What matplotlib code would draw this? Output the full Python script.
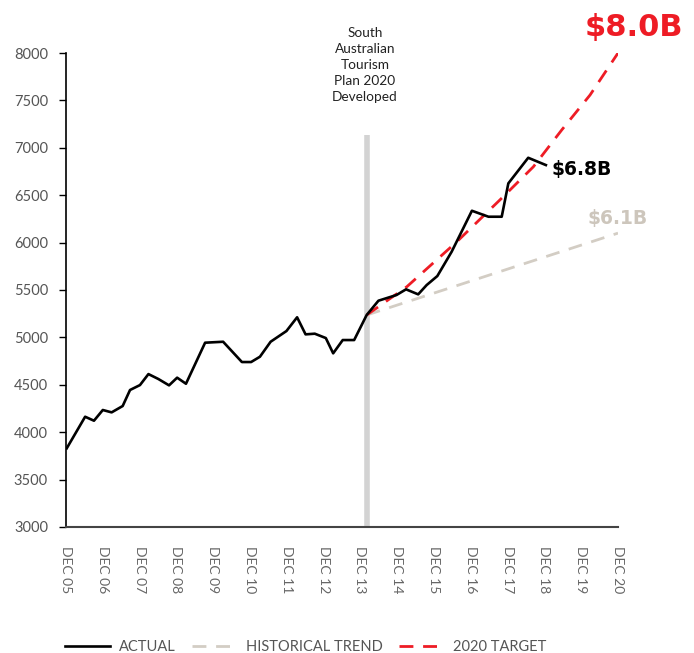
import matplotlib.pyplot as plt

# years since Dec 2005 (x) and visitor expenditure in $M (y)
actual_x = [0.02, 0.52, 0.76, 1.00, 1.24, 1.54, 1.74, 2.01, 2.24, 2.51, 2.80, 3.02,
            3.26, 3.78, 4.27, 4.78, 5.03, 5.27, 5.56, 5.99, 6.28, 6.51, 6.76, 7.06,
            7.26, 7.52, 7.83, 8.17, 8.49, 8.98, 9.24, 9.57, 9.80, 10.09, 10.48,
            11.03, 11.48, 11.84, 12.02, 12.56, 13.04]
actual_y = [3830, 4163, 4121, 4234, 4209, 4276, 4445, 4497, 4613, 4561, 4494, 4575,
            4511, 4944, 4954, 4740, 4740, 4796, 4954, 5067, 5212, 5032, 5039, 4993,
            4832, 4972, 4972, 5236, 5387, 5447, 5507, 5454, 5552, 5647, 5904,
            6336, 6273, 6273, 6625, 6895, 6818]

trend_x = [8.17, 15.0]
trend_y = [5236, 6100]

target_x = [8.17, 9.26, 10.62, 11.88, 12.70, 13.47, 14.24, 15.0]
target_y = [5236, 5534, 6009, 6484, 6800, 7188, 7557, 8000]

plan_x = 8.17
plan_top = 7130

tick_labels = ["DEC 05", "DEC 06", "DEC 07", "DEC 08", "DEC 09", "DEC 10", "DEC 11",
               "DEC 12", "DEC 13", "DEC 14", "DEC 15", "DEC 16", "DEC 17", "DEC 18",
               "DEC 19", "DEC 20"]

plt.rcParams['font.family'] = ['Lato', 'DejaVu Sans']

fig = plt.figure(figsize=(6.94, 6.53), dpi=100)
ax = fig.add_axes([0.0951, 0.193, 0.7954, 0.7258])

red = "#ee1c25"
grey = "#d3cdc4"

ax.plot([plan_x, plan_x], [3000, plan_top], color="#d3d3d3", lw=4, solid_capstyle="butt", zorder=1)
ax.plot(trend_x, trend_y, color=grey, lw=2, dashes=(5, 3.5), label="HISTORICAL TREND", zorder=2)
ax.plot(target_x, target_y, color=red, lw=2, dashes=(5, 3.5), label="2020 TARGET", zorder=3)
ax.plot(actual_x, actual_y, color="black", lw=1.9, label="ACTUAL", zorder=4)

ax.set_xlim(0, 15)
ax.set_ylim(3000, 8000)
ax.set_yticks(range(3000, 8001, 500))
ax.set_xticks(range(len(tick_labels)))
ax.set_xticklabels(tick_labels, rotation=270, color="#666666", fontsize=10)
ax.tick_params(axis="x", length=0, pad=14)
ax.tick_params(axis="y", length=5, width=1, colors="black", labelcolor="#555555",
               labelsize=10.5, pad=8)

for s in ["top", "right"]:
    ax.spines[s].set_visible(False)
ax.spines["left"].set_linewidth(1.2)
ax.spines["bottom"].set_color("#444444")
ax.spines["bottom"].set_linewidth(1.5)

ax.text(plan_x - 0.05, 8270, "South\nAustralian\nTourism\nPlan 2020\nDeveloped",
        ha="center", va="top", fontsize=9.8, linespacing=1.38, color="#222222")
ax.text(15.43, 8274, "$8.0B", color=red, fontsize=22, fontweight="bold",
        family="DejaVu Sans", ha="center", va="center")
ax.text(13.2, 6776, "$6.8B", color="black", fontsize=13.5, fontweight="bold",
        family="DejaVu Sans", ha="left", va="center")
ax.text(14.18, 6259, "$6.1B", color="#cdc6bc", fontsize=13.5, fontweight="bold",
        family="DejaVu Sans", ha="left", va="center")

handles, labels = ax.get_legend_handles_labels()
order = [2, 0, 1]
leg = fig.legend([handles[i] for i in order], [labels[i] for i in order],
                 loc="lower left", bbox_to_anchor=(0.075, -0.022), ncol=3, frameon=False,
                 fontsize=10.5, handlelength=3.1, columnspacing=1.1, handletextpad=0.6)
for t in leg.get_texts():
    t.set_color("#555555")

fig.savefig("out.png", dpi=100)
